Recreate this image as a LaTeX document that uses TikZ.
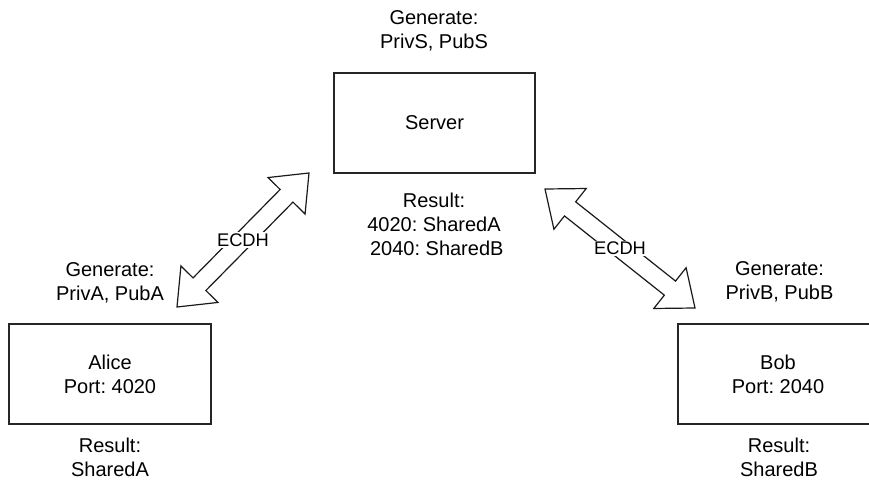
\documentclass[tikz,border=0pt]{standalone}
\usepackage{fontspec}
\setmainfont{Liberation Sans}
\usetikzlibrary{calc}
\frenchspacing

% hollow double-headed "flex" arrow between two named points
\newcommand\flexarrow[2]{%
  \coordinate (#1#2p) at ($(#1)!32pt!(#2)$);
  \coordinate (#1#2q) at ($(#2)!32pt!(#1)$);
  \draw[flexline] (#1)
    -- ($(#1#2p)!26pt!90:(#2)$) -- ($(#1#2p)!9pt!90:(#2)$)
    -- ($(#1#2q)!9pt!-90:(#1)$) -- ($(#1#2q)!26pt!-90:(#1)$)
    -- (#2)
    -- ($(#1#2q)!26pt!90:(#1)$) -- ($(#1#2q)!9pt!90:(#1)$)
    -- ($(#1#2p)!9pt!-90:(#2)$) -- ($(#1#2p)!26pt!-90:(#2)$)
    -- cycle;}

\begin{document}
\begin{tikzpicture}[x=1pt,y=-1pt,
  txt/.style={align=center,inner sep=0pt,font=\fontsize{20}{24}\selectfont},
  hostbox/.style={draw,line width=1.4pt,draw=black!85,minimum height=100pt,
    inner sep=0pt,align=center,font=\fontsize{20}{24}\selectfont},
  flexline/.style={line width=1.2pt,draw=black!90,fill=white,line join=miter},
  edgelbl/.style={fill=white,inner sep=1.5pt,font=\fontsize{18.3}{22}\selectfont}]

\useasboundingbox (0,0) rectangle (869,489);

% hosts
\node[hostbox,minimum width=201pt] (server) at (434.5,123) {Server};
\node[hostbox,minimum width=202pt] (alice) at (110,374) {Alice\\Port: 4020};
\node[hostbox,minimum width=200pt] (bob) at (778,374) {Bob\\Port: 2040};

% key generation notes
\node[txt] (sgen) at (434,31) {Generate:\\PrivS, PubS};
\node[txt] (agen) at (110,283) {Generate:\\PrivA, PubA};
\node[txt] (bgen) at (779.5,282) {Generate:\\PrivB, PubB};

% shared secret results
\node[txt] (sres) at (434,224) {Result:\\4020: SharedA\\\hspace{5.6pt}2040: SharedB};
\node[txt] (ares) at (110,457) {Result:\\SharedA};
\node[txt] (bres) at (779,457) {Result:\\SharedB};

% ECDH exchanges
\coordinate (la1) at (177,307);
\coordinate (la2) at (309,173);
\coordinate (ra1) at (545,189);
\coordinate (ra2) at (695,308);
\flexarrow{la1}{la2}
\flexarrow{ra1}{ra2}
\node[edgelbl] (lecdh) at ($(la1)!0.5!(la2)$) {ECDH};
\node[edgelbl] (recdh) at ($(ra1)!0.5!(ra2)$) {ECDH};

\end{tikzpicture}
\end{document}
